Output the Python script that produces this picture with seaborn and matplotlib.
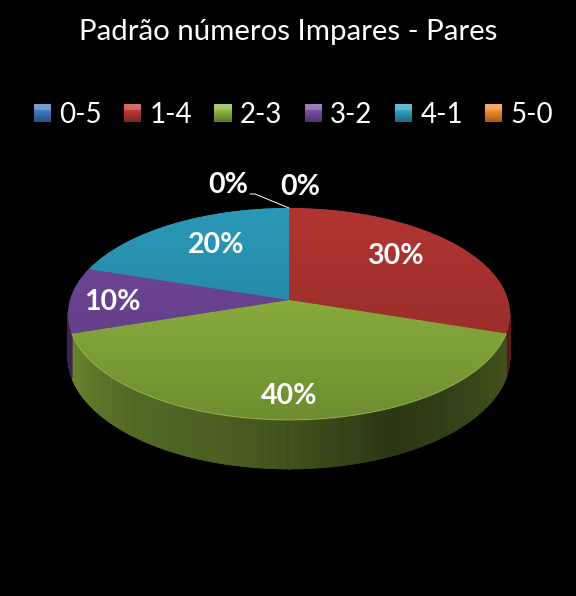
import numpy as np
import matplotlib
matplotlib.use("Agg")
import matplotlib.pyplot as plt
import seaborn as sns
from matplotlib.colors import to_rgb
from matplotlib.legend_handler import HandlerBase
from matplotlib.patches import Patch, Rectangle
from matplotlib.transforms import Transform
from matplotlib.collections import PolyCollection

categories = ["0-5", "1-4", "2-3", "3-2", "4-1", "5-0"]
values = [0, 30, 40, 10, 20, 0]
pct_labels = ["0%", "30%", "40%", "10%", "20%", "0%"]
title = "Padrão números Impares - Pares"

base = ["#3f74b8", "#b23532", "#88aa3c", "#744a9a", "#2b99ba", "#e8842b"]
face_low = ["#2f5a94", "#8a2926", "#6c8c2f", "#5a3880", "#1f7890", "#c06a1e"]
wall_col = ["#24466e", "#5a1c1a", "#45581f", "#3a2552", "#185f75", "#8f4f16"]

label_xy = [(228, 185), (395, 256), (289, 396), (112, 302), (216, 245), (300, 187)]

sns.set_theme(style="dark", rc={"axes.facecolor": "black", "figure.facecolor": "black",
                                "savefig.facecolor": "black"})
plt.rcParams["font.family"] = ["Lato", "DejaVu Sans"]
palette = sns.color_palette(base)

CX, CY, RX, C, K, DROP = 289.0, 300.0, 219.0, 104.1, 0.132, 42.5


class Persp(Transform):
    input_dims = output_dims = 2
    is_separable = False
    has_inverse = False

    def transform_non_affine(self, xy):
        xy = np.asarray(xy, float)
        d = 1 + K * xy[:, 1]
        return np.column_stack([CX + RX * xy[:, 0] / d, CY - C * xy[:, 1] / d])


class BevelHandler(HandlerBase):
    def create_artists(self, legend, orig, xd, yd, width, height, fontsize, trans):
        c = np.array(to_rgb(orig.get_facecolor()))
        arts = []
        n = 10
        side = width
        y0 = -yd + (height - side) / 2
        for k in range(n):
            f = k / (n - 1)
            col = np.clip(c * (0.72 + 0.5 * f), 0, 1) if k < n - 3 else np.clip(c * 0.75 + 0.25 + 0.1 * (f - 0.7), 0, 1)
            arts.append(Rectangle((-xd, y0 + side * k / n), side, side / n + 0.3,
                                  facecolor=col, edgecolor="none", transform=trans))
        return arts


def project(th, drop=0.0):
    x, y = np.cos(th), np.sin(th)
    d = 1 + K * y
    return CX + RX * x / d, CY - C * y / d + drop / d


fig = plt.figure(figsize=(5.76, 5.96), dpi=100)
ax = fig.add_axes([0, 0, 1, 1])
wedges, _ = ax.pie(values, colors=palette, startangle=90, counterclock=False, radius=1)
ax.set_aspect("auto")

persp = Persp() + ax.transData

shade_t = np.array([0.0, 0.13, 0.35, 0.5, 0.62, 0.73, 0.85, 1.0])
shade_v = np.array([1.5, 1.22, 1.08, 0.95, 0.78, 0.63, 0.72, 0.95])

for i, w in enumerate(wedges):
    w.set_transform(persp)
    w.set_edgecolor("none")
    w.set_zorder(3)
    if values[i] == 0:
        continue
    top, low = np.array(to_rgb(base[i])), np.array(to_rgb(face_low[i]))
    grad = np.linspace(0, 1, 256)[:, None, None] * (low - top)[None, None, :] + top[None, None, :]
    im = ax.imshow(grad, extent=(60, 520, 425, 205) if i != 2 else (60, 520, 425, 300),
                   aspect="auto", zorder=3.5, interpolation="bilinear")
    im.set_clip_path(w)
    a = np.radians(np.linspace(w.theta1, w.theta2, 240))
    a = a[np.sin(a) < -K * 0.9]
    if a.size < 2:
        continue
    polys, cols = [], []
    wc = np.array(to_rgb(wall_col[i]))
    for t0, t1 in zip(a[:-1], a[1:]):
        x0, y0 = project(t0)
        x1, y1 = project(t1)
        x2, y2 = project(t1, DROP)
        x3, y3 = project(t0, DROP)
        polys.append([(x0, y0), (x1, y1), (x2, y2), (x3, y3)])
        u = np.clip((x0 - 68) / 442, 0, 1)
        s = np.interp(u, shade_t, shade_v) if i == 2 else 1.0
        cols.append(np.clip(wc * s, 0, 1))
    ax.add_collection(PolyCollection(polys, facecolors=cols, edgecolors=cols, linewidths=0.6, zorder=2))
    if i == 2:
        rx, ry = project(a)
        ax.plot(rx, ry, color="#a5c25a", lw=0.8, alpha=0.6, zorder=4)

ax.set_xlim(0, 576)
ax.set_ylim(596, 0)
ax.axis("off")

for (x, y), s in zip(label_xy, pct_labels):
    ax.text(x, y, s, color="white", fontsize=20.5, fontweight="bold",
            ha="center", va="center", zorder=6)

ax.plot([250, 255, 289], [194, 194, 208], color="white", lw=0.7, zorder=6)
ax.text(288, 32, title, color="white", fontsize=21.2, ha="center", va="center")

handles = [Patch(facecolor=c, edgecolor="none", label=n) for c, n in zip(base, categories)]
leg = fig.legend(handles=handles, ncol=6, loc="center", bbox_to_anchor=(293.5 / 576, 1 - 115 / 596),
                 frameon=False, fontsize=20, labelcolor="white", handlelength=0.62,
                 handleheight=0.7, handletextpad=0.3, columnspacing=0.8, borderpad=0,
                 handler_map={Patch: BevelHandler()})

fig.savefig("out.png", dpi=100, facecolor="black")
